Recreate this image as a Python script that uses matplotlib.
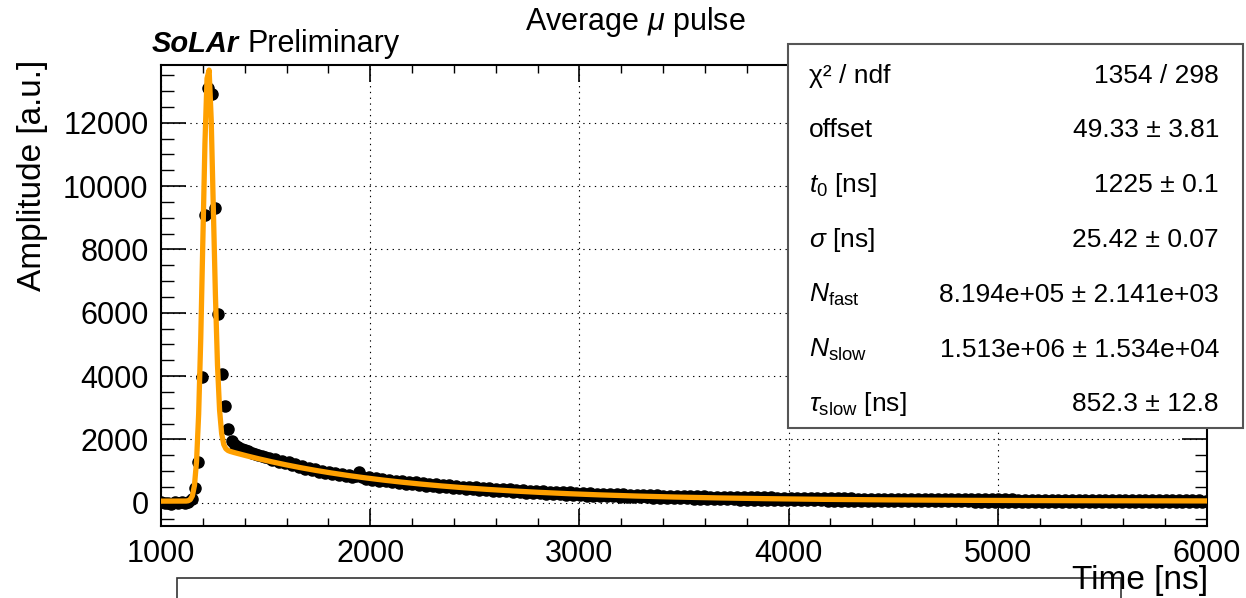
import math
import numpy as np
import matplotlib
matplotlib.use("Agg")
import matplotlib.pyplot as plt
from matplotlib.patches import Rectangle

plt.rcParams['font.family'] = ['Liberation Sans', 'DejaVu Sans']
plt.rcParams['mathtext.fontset'] = 'custom'
plt.rcParams['mathtext.rm'] = 'Liberation Sans'
plt.rcParams['mathtext.it'] = 'Liberation Sans:italic'
plt.rcParams['mathtext.bf'] = 'Liberation Sans:bold'

# averaged waveform, 16 ns samples starting at 1002 ns
T_START = 1002
T_STEP = 16

amp_rise = [10, -20, 0, -30, 10, -10, 20, 0, 30, 120, 460, 1300, 3960, 9100,
            13100, 12900, 9300, 5950, 4050, 3050, 2340, 1940]

amp_tail = [
    1830, 1760, 1710, 1660, 1620, 1580, 1540, 1500, 1470, 1440,
    1420, 1345, 1370, 1290, 1320, 1240, 1270, 1180, 1210, 1120,
    1150, 1060, 1100, 1020, 1060, 975, 1010, 940, 975, 895,
    935, 860, 905, 830, 875, 800, 850, 960, 820, 750,
    800, 730, 775, 700, 750, 670, 730, 650, 700, 625,
    690, 600, 665, 575, 640, 555, 620, 540, 600, 515,
    590, 505, 570, 480, 550, 460, 530, 450, 510, 430,
    500, 420, 490, 400, 470, 390, 455, 375, 440, 360,
    430, 355, 420, 340, 405, 325, 395, 315, 380, 300,
    375, 295, 360, 280, 350, 270, 340, 265, 330, 250,
    325, 245, 315, 235, 305, 225, 295, 220, 290, 210,
    285, 205, 275, 200, 265, 190, 260, 185, 255, 175,
    250, 170, 245, 165, 235, 160, 230, 155, 225, 150,
    225, 145, 220, 140, 210, 135, 205, 130, 200, 125,
    200, 120, 195, 115, 190, 110, 185, 110, 180, 105,
    180, 100, 175, 100, 170, 95, 170, 95, 165, 90,
    165, 85, 160, 85, 160, 80, 155, 80, 150, 75,
    150, 75, 150, 70, 145, 70, 145, 65, 140, 65,
    140, 65, 135, 60, 135, 60, 130, 60, 130, 55,
    130, 55, 130, 55, 125, 50, 125, 50, 125, 50,
    120, 50, 120, 45, 120, 45, 115, 45, 115, 45,
    115, 40, 115, 40, 110, 40, 110, 40, 110, 40,
    110, 35, 110, 35, 105, 35, 105, 35, 105, 35,
    105, 30, 105, 30, 100, 30, 100, 30, 100, 30,
    100, 30, 100, 25, 100, 25, 100, 25, 95, 25,
    95, 25, 95, 25, 95, 25, 95, 25, 95, 25,
    95, 25, 95, 25, 95, 25, 95, 25, 90, 25,
    90, 20, 90, 20, 90, 20, 90, 20, 90, 20,
    90, 20, 90, 20, 90, 20, 90, 20, 90, 20,
    55,
]

amplitude = np.array(amp_rise + amp_tail, dtype=float)
time_ns = T_START + T_STEP * np.arange(len(amplitude))

# fit parameters (from the stats box)
fit_offset = 49.33
fit_t0 = 1225.0
fit_sigma = 25.42
fit_nfast = 8.194e5
fit_nslow = 1.513e6
fit_tau = 852.3

stat_labels = ['χ² / ndf', 'offset', r'$t_0$ [ns]', r'$\sigma$ [ns]',
               r'$N_{\mathrm{fast}}$', r'$N_{\mathrm{slow}}$',
               r'$\tau_{\mathrm{slow}}$ [ns]']
stat_values = ['1354 / 298', '49.33 ± 3.81', '1225 ± 0.1', '25.42 ± 0.07',
               '8.194e+05 ± 2.141e+03', '1.513e+06 ± 1.534e+04',
               '852.3 ± 12.8']


def pulse_model(t):
    dt = t - fit_t0
    fast = fit_nfast / (fit_sigma * math.sqrt(2 * math.pi)) * math.exp(-dt**2 / (2 * fit_sigma**2))
    slow = (fit_nslow / (2 * fit_tau)
            * math.exp(fit_sigma**2 / (2 * fit_tau**2) - dt / fit_tau)
            * math.erfc((fit_sigma / fit_tau - dt / fit_sigma) / math.sqrt(2)))
    return fit_offset + fast + slow


# curve drawn on a 10 ns grid, like the TF1 polyline
t_fit = np.linspace(1000, 6000, 501)
y_fit = np.array([pulse_model(t) for t in t_fit])

W, H = 1246, 598
fig = plt.figure(figsize=(W / 100, H / 100), dpi=100)
ax = fig.add_axes([161 / W, 1 - 526 / H, (1207 - 161) / W, (526 - 65) / H])

ax.plot(time_ns, amplitude, 'o', color='black', ms=8, zorder=2)
ax.plot(t_fit, y_fit, color='#ffa000', lw=3.8, zorder=3)

ax.set_xlim(1000, 6000)
ax.set_ylim(-736, 13823)
ax.set_xticks(np.arange(1000, 6001, 1000))
ax.set_xticks(np.arange(1000, 6001, 200), minor=True)
ax.set_yticks(np.arange(0, 12001, 2000))
ax.set_yticks(np.arange(-500, 13801, 500), minor=True)

ax.grid(True, which='major', color='black', lw=0.8, ls=(0, (1.2, 4)))
ax.set_axisbelow(True)
for sp in ax.spines.values():
    sp.set_linewidth(1.5)

ax.tick_params(axis='both', which='both', direction='in', top=True, right=True,
               labelsize=22)
ax.tick_params(axis='x', which='major', length=12, width=1.2, pad=9)
ax.tick_params(axis='x', which='minor', length=6, width=1)
ax.tick_params(axis='y', which='major', length=18, width=1.2, pad=9)
ax.tick_params(axis='y', which='minor', length=9, width=1)

fig.text(33 / W, 1 - 60 / H, 'Amplitude [a.u.]', rotation=90, ha='center',
         va='top', fontsize=24)
fig.text(1208 / W, 1 - 580 / H, 'Time [ns]', ha='right', va='center',
         fontsize=24, zorder=6)
fig.text(635 / W, 1 - 22 / H, r'Average $\mu$ pulse', ha='center',
         va='center', fontsize=22)
fig.text(152 / W, 1 - 52 / H, 'SoLAr', ha='left', va='baseline',
         fontsize=21, fontweight='bold', fontstyle='italic')
fig.text(248 / W, 1 - 52 / H, 'Preliminary', ha='left', va='baseline',
         fontsize=22)

# stats box
fig.add_artist(Rectangle((788 / W, 1 - 428 / H), (1243 - 788) / W,
                         (428 - 44) / H, transform=fig.transFigure,
                         fc='white', ec='#555555', lw=1.5, zorder=5))
row_base = [83, 137, 192, 247, 302, 357, 411]
for lab, val, yb in zip(stat_labels, stat_values, row_base):
    fig.text(809 / W, 1 - yb / H, lab, ha='left', va='baseline',
             fontsize=19, zorder=6)
    fig.text(1219 / W, 1 - yb / H, val, ha='right', va='baseline',
             fontsize=19, zorder=6)

# edge of the next pad peeking in at the bottom
fig.add_artist(Rectangle((177 / W, -0.1), (1121 - 177) / W,
                         0.1 + 1 - 578 / H, transform=fig.transFigure,
                         fc='none', ec='#333333', lw=1.2, zorder=4))

fig.savefig('out.png', dpi=100)
